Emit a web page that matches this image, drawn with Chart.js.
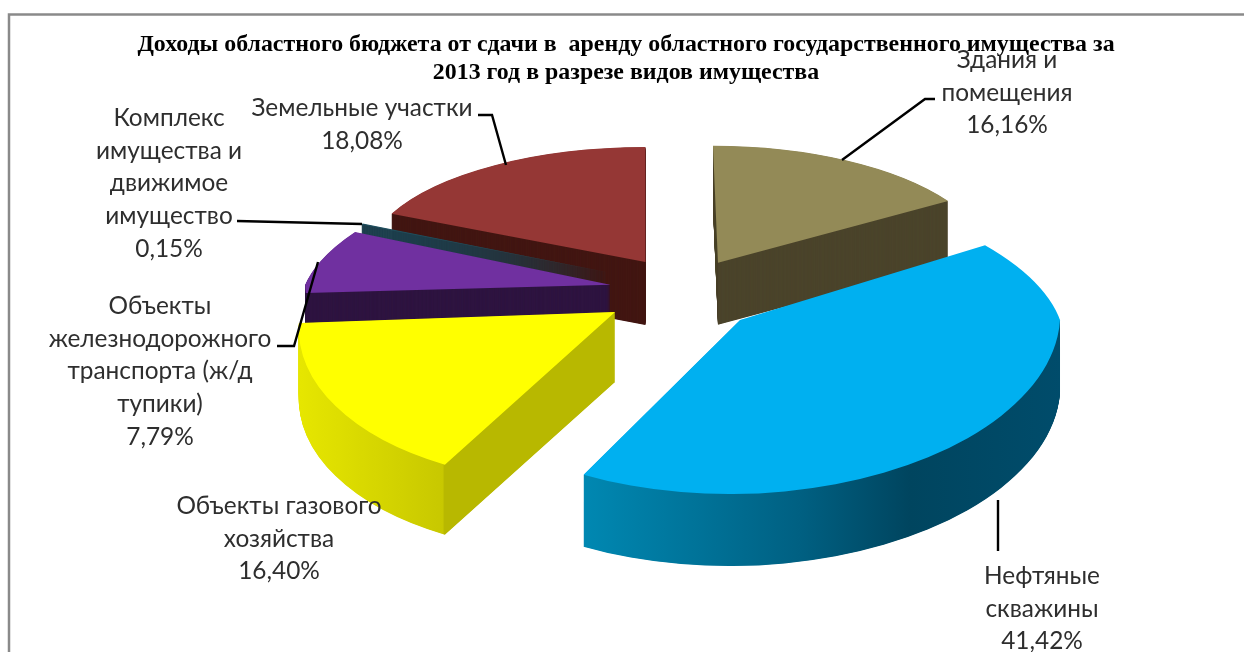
<!DOCTYPE html>
<html><head><meta charset="utf-8">
<style>html,body{margin:0;padding:0;background:#fff}canvas{display:block}</style>
<script src="https://cdn.jsdelivr.net/npm/chart.js@4"></script>
</head><body><canvas id="c" width="1244" height="652"></canvas>
<script>
// ---- data ----
const categories = ['Здания и помещения','Нефтяные скважины','Объекты газового хозяйства','Объекты железнодорожного транспорта (ж/д тупики)','Комплекс имущества и движимое имущество','Земельные участки'];
const shares = [16.16,41.42,16.40,7.79,0.15,18.08];
const chartTitle = ['Доходы областного бюджета от сдачи в  аренду областного государственного имущества за','2013 год в разрезе видов имущества'];
const labelLines = [['Здания и','помещения'],['Нефтяные','скважины'],['Объекты газового','хозяйства'],['Объекты','железнодорожного','транспорта (ж/д','тупики)'],['Комплекс','имущества и','движимое','имущество'],['Земельные участки']];
// ---- styling of the 3D projection ----
const topColors = ['#938a57','#00b0f0','#ffff00','#7030a0','#1f4f5e','#953735'];
const sideColors = ['#4b442b',[[-157,'#0088b2'],[60,'#006082'],[170,'#00455f'],[320,'#004c6b']],[[-315,'#e6e600'],[-172,'#c8c800'],[-171,'#b8b800'],[0,'#b8b800']],'#2e1440','#1d3f4d','#421612'];
const pieShiftX = 56;
const explodeX = [74,79,80,73,77,68];
const explodeY = [37,37,31,57,52,39];
const widthScale = [274,320,315,305,275,280];
const heightRear = [117,142,172,128,118,115];
const heightFront = [117,174,172,128,118,115];
const skewRear = [5,51,-29,-55,0,0];
const skewFront = [5,-11,-29,0,0,0];
const hideRearSide = [false,true,false,false,false,false];
const sideDepth = [62,72,70,62,55,63];
const paintOrder = [0,5,4,3,2,1];
const labelAnchor = [[1007,60],[1042,576],[279,506],[160,306],[169,118],[362,108]];
const labelStep = 32.7;
const leaders = [[[842,160],[925,99],[935,99]],[[998,500],[998,551]],[],[[277,346],[294,346],[318,262]],[[237,221],[362,224]],[[478,115],[492,115],[506,165]]];

function apex(el, i){
  const mid = (el.startAngle + el.endAngle)/2;
  return {ax: el.x + pieShiftX + Math.cos(mid)*explodeX[i], ay: el.y + Math.sin(mid)*explodeY[i]};
}
function sideFill(ctx, el, i){
  const s = sideColors[i];
  if (typeof s === 'string') return s;
  const R = el.outerRadius, a = widthScale[i]/R, c = skewFront[i]/R;
  const n = a*a + c*c, X0 = s[0][0], X1 = s[s.length-1][0];
  const g = ctx.createLinearGradient(el.x + X0*a/n, el.y + X0*c/n, el.x + X1*a/n, el.y + X1*c/n);
  s.forEach(st => g.addColorStop((st[0]-X0)/(X1-X0), st[1]));
  return g;
}
// paints one half (rear or front of the horizontal diameter) of slice i with its own affine projection
function paintHalf(ctx, el, i, dy, fill, front){
  const R = el.outerRadius, A = apex(el, i);
  const a = widthScale[i]/R, d = (front ? heightFront : heightRear)[i]/R, c = (front ? skewFront : skewRear)[i]/R;
  ctx.save();
  ctx.transform(a, 0, c, d, A.ax, A.ay + dy);
  ctx.translate(-el.x, -el.y);
  ctx.beginPath();
  ctx.rect(el.x - 2*R, front ? el.y - 0.3 : el.y - 2*R, 4*R, 2*R + 0.3);
  ctx.clip();
  const saved = el.options;
  el.options = Object.assign(Object.create(saved), {backgroundColor: fill, borderColor: fill, borderWidth: 0, offset: 0});
  el.draw(ctx);
  el.options = saved;
  ctx.restore();
}
const pie3d = {
  id: 'pie3d',
  beforeDraw(chart){
    const ctx = chart.ctx;
    ctx.save();
    ctx.strokeStyle = '#8a8a8a'; ctx.lineWidth = 2.5;
    ctx.beginPath(); ctx.moveTo(1244,14.5); ctx.lineTo(9,14.5); ctx.lineTo(9,652); ctx.stroke();
    ctx.restore();
  },
  beforeDatasetsDraw(chart){
    const ctx = chart.ctx;
    const els = chart.getDatasetMeta(0).data;
    paintOrder.forEach(i => {
      const el = els[i];
      const fill = sideFill(ctx, el, i);
      for (let k = sideDepth[i]; k >= 0.5; k -= 0.5) {
        if (!hideRearSide[i]) paintHalf(ctx, el, i, k, fill, false);
        paintHalf(ctx, el, i, k, fill, true);
      }
      paintHalf(ctx, el, i, 0, topColors[i], false);
      paintHalf(ctx, el, i, 0, topColors[i], true);
    });
    return false;
  },
  afterDraw(chart){
    const ctx = chart.ctx;
    ctx.save();
    ctx.strokeStyle = '#000'; ctx.lineWidth = 2.4;
    leaders.forEach(l => { if(!l.length) return; ctx.beginPath(); l.forEach((q,j)=> j?ctx.lineTo(q[0],q[1]):ctx.moveTo(q[0],q[1])); ctx.stroke(); });
    ctx.fillStyle = '#2e2e2e'; ctx.font = '24.4px Lato'; ctx.textAlign = 'center'; ctx.textBaseline = 'middle';
    labelLines.forEach((lines,i) => {
      const all = lines.concat([shares[i].toFixed(2).replace('.',',') + '%']);
      all.forEach((t,j) => ctx.fillText(t, labelAnchor[i][0], labelAnchor[i][1] + j*labelStep));
    });
    ctx.restore();
  }
};
new Chart(document.getElementById('c'), {
  type: 'pie',
  data: {labels: categories, datasets: [{data: shares, backgroundColor: topColors, borderWidth: 0}]},
  options: {
    responsive: false, animation: false, devicePixelRatio: 1,
    layout: {padding: {left: 8, right: 0, top: 0, bottom: 157}},
    plugins: {
      legend: {display: false}, tooltip: {enabled: false},
      title: {display: true, text: chartTitle, color: '#000', font: {family: 'Liberation Serif', size: 23.9, weight: 'bold', lineHeight: 1.17}, padding: {top: 31, bottom: 8}}
    }
  },
  plugins: [pie3d]
});
</script></body></html>
